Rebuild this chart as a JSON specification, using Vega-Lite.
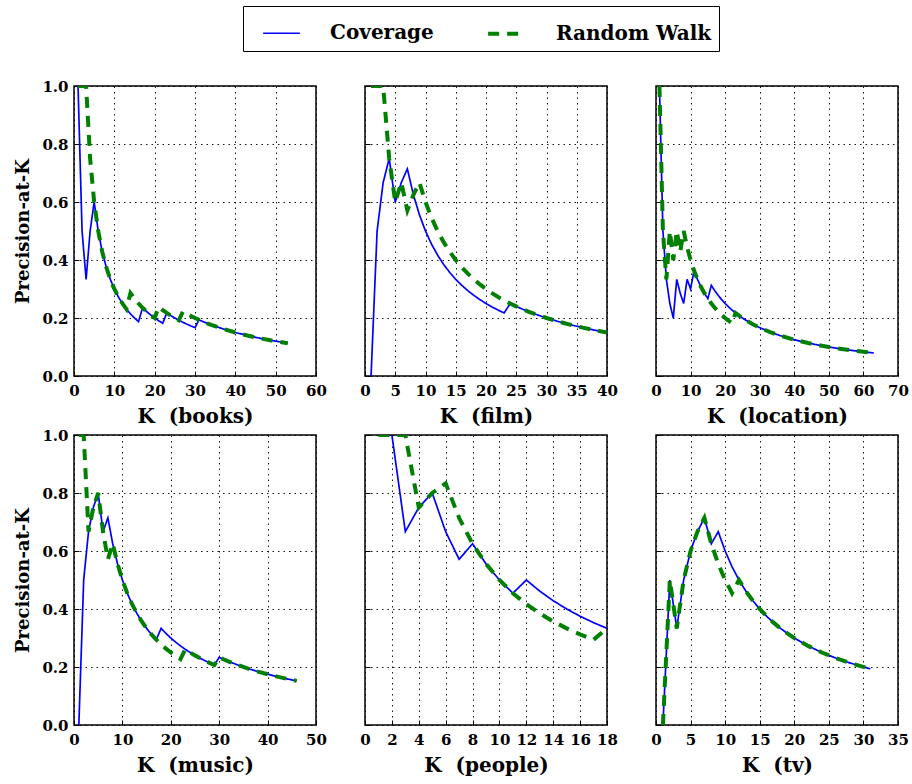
{
  "$schema": "https://vega.github.io/schema/vega-lite/v6.json",
  "padding": {"left": 14, "top": 5, "right": 5, "bottom": 5},
  "background": "white",
  "data": {"values": [
    {"panel":"books","K":1,"Coverage":1,"Random Walk":1},
    {"panel":"books","K":2,"Coverage":0.5,"Random Walk":1},
    {"panel":"books","K":3,"Coverage":0.3333,"Random Walk":1},
    {"panel":"books","K":4,"Coverage":0.5,"Random Walk":0.75},
    {"panel":"books","K":5,"Coverage":0.6,"Random Walk":0.6},
    {"panel":"books","K":6,"Coverage":0.5,"Random Walk":0.5},
    {"panel":"books","K":7,"Coverage":0.4286,"Random Walk":0.4286},
    {"panel":"books","K":8,"Coverage":0.375,"Random Walk":0.375},
    {"panel":"books","K":9,"Coverage":0.3333,"Random Walk":0.3333},
    {"panel":"books","K":10,"Coverage":0.3,"Random Walk":0.3},
    {"panel":"books","K":11,"Coverage":0.2727,"Random Walk":0.2727},
    {"panel":"books","K":12,"Coverage":0.25,"Random Walk":0.25},
    {"panel":"books","K":13,"Coverage":0.2308,"Random Walk":0.2308},
    {"panel":"books","K":14,"Coverage":0.2143,"Random Walk":0.2857},
    {"panel":"books","K":15,"Coverage":0.2,"Random Walk":0.2667},
    {"panel":"books","K":16,"Coverage":0.1875,"Random Walk":0.25},
    {"panel":"books","K":17,"Coverage":0.2353,"Random Walk":0.2353},
    {"panel":"books","K":18,"Coverage":0.2222,"Random Walk":0.2222},
    {"panel":"books","K":19,"Coverage":0.2105,"Random Walk":0.2105},
    {"panel":"books","K":20,"Coverage":0.2,"Random Walk":0.2},
    {"panel":"books","K":21,"Coverage":0.1905,"Random Walk":0.2381},
    {"panel":"books","K":22,"Coverage":0.1818,"Random Walk":0.2273},
    {"panel":"books","K":23,"Coverage":0.2174,"Random Walk":0.2174},
    {"panel":"books","K":24,"Coverage":0.2083,"Random Walk":0.2083},
    {"panel":"books","K":25,"Coverage":0.2,"Random Walk":0.2},
    {"panel":"books","K":26,"Coverage":0.1923,"Random Walk":0.1923},
    {"panel":"books","K":27,"Coverage":0.1852,"Random Walk":0.2222},
    {"panel":"books","K":28,"Coverage":0.1786,"Random Walk":0.2143},
    {"panel":"books","K":29,"Coverage":0.1724,"Random Walk":0.2069},
    {"panel":"books","K":30,"Coverage":0.1667,"Random Walk":0.2},
    {"panel":"books","K":31,"Coverage":0.1935,"Random Walk":0.1935},
    {"panel":"books","K":32,"Coverage":0.1875,"Random Walk":0.1875},
    {"panel":"books","K":33,"Coverage":0.1818,"Random Walk":0.1818},
    {"panel":"books","K":34,"Coverage":0.1765,"Random Walk":0.1765},
    {"panel":"books","K":37,"Coverage":0.1622,"Random Walk":0.1622},
    {"panel":"books","K":40,"Coverage":0.15,"Random Walk":0.15},
    {"panel":"books","K":43,"Coverage":0.1395,"Random Walk":0.1395},
    {"panel":"books","K":46,"Coverage":0.1304,"Random Walk":0.1304},
    {"panel":"books","K":49,"Coverage":0.1224,"Random Walk":0.1224},
    {"panel":"books","K":53,"Coverage":0.1132,"Random Walk":0.1132},

    {"panel":"film","K":1,"Coverage":0,"Random Walk":1},
    {"panel":"film","K":2,"Coverage":0.5,"Random Walk":1},
    {"panel":"film","K":3,"Coverage":0.6667,"Random Walk":1},
    {"panel":"film","K":4,"Coverage":0.75,"Random Walk":0.75},
    {"panel":"film","K":5,"Coverage":0.6,"Random Walk":0.6},
    {"panel":"film","K":6,"Coverage":0.6667,"Random Walk":0.6667},
    {"panel":"film","K":7,"Coverage":0.7143,"Random Walk":0.5714},
    {"panel":"film","K":8,"Coverage":0.625,"Random Walk":0.625},
    {"panel":"film","K":9,"Coverage":0.5556,"Random Walk":0.6667},
    {"panel":"film","K":10,"Coverage":0.5,"Random Walk":0.6},
    {"panel":"film","K":11,"Coverage":0.4545,"Random Walk":0.5455},
    {"panel":"film","K":12,"Coverage":0.4167,"Random Walk":0.5},
    {"panel":"film","K":13,"Coverage":0.3846,"Random Walk":0.4615},
    {"panel":"film","K":14,"Coverage":0.3571,"Random Walk":0.4286},
    {"panel":"film","K":15,"Coverage":0.3333,"Random Walk":0.4},
    {"panel":"film","K":16,"Coverage":0.3125,"Random Walk":0.375},
    {"panel":"film","K":17,"Coverage":0.2941,"Random Walk":0.3529},
    {"panel":"film","K":18,"Coverage":0.2778,"Random Walk":0.3333},
    {"panel":"film","K":19,"Coverage":0.2632,"Random Walk":0.3158},
    {"panel":"film","K":20,"Coverage":0.25,"Random Walk":0.3},
    {"panel":"film","K":21,"Coverage":0.2381,"Random Walk":0.2857},
    {"panel":"film","K":22,"Coverage":0.2273,"Random Walk":0.2727},
    {"panel":"film","K":23,"Coverage":0.2174,"Random Walk":0.2609},
    {"panel":"film","K":24,"Coverage":0.25,"Random Walk":0.25},
    {"panel":"film","K":25,"Coverage":0.24,"Random Walk":0.24},
    {"panel":"film","K":26,"Coverage":0.2308,"Random Walk":0.2308},
    {"panel":"film","K":27,"Coverage":0.2222,"Random Walk":0.2222},
    {"panel":"film","K":28,"Coverage":0.2143,"Random Walk":0.2143},
    {"panel":"film","K":30,"Coverage":0.2,"Random Walk":0.2},
    {"panel":"film","K":32,"Coverage":0.1875,"Random Walk":0.1875},
    {"panel":"film","K":34,"Coverage":0.1765,"Random Walk":0.1765},
    {"panel":"film","K":36,"Coverage":0.1667,"Random Walk":0.1667},
    {"panel":"film","K":38,"Coverage":0.1579,"Random Walk":0.1579},
    {"panel":"film","K":40,"Coverage":0.15,"Random Walk":0.15},

    {"panel":"location","K":1,"Coverage":1,"Random Walk":1},
    {"panel":"location","K":2,"Coverage":0.5,"Random Walk":0.5},
    {"panel":"location","K":3,"Coverage":0.3333,"Random Walk":0.3333},
    {"panel":"location","K":4,"Coverage":0.25,"Random Walk":0.5},
    {"panel":"location","K":5,"Coverage":0.2,"Random Walk":0.4},
    {"panel":"location","K":6,"Coverage":0.3333,"Random Walk":0.5},
    {"panel":"location","K":7,"Coverage":0.2857,"Random Walk":0.4286},
    {"panel":"location","K":8,"Coverage":0.25,"Random Walk":0.5},
    {"panel":"location","K":9,"Coverage":0.3333,"Random Walk":0.4444},
    {"panel":"location","K":10,"Coverage":0.3,"Random Walk":0.4},
    {"panel":"location","K":11,"Coverage":0.3636,"Random Walk":0.3636},
    {"panel":"location","K":12,"Coverage":0.3333,"Random Walk":0.3333},
    {"panel":"location","K":13,"Coverage":0.3077,"Random Walk":0.3077},
    {"panel":"location","K":14,"Coverage":0.2857,"Random Walk":0.2857},
    {"panel":"location","K":15,"Coverage":0.2667,"Random Walk":0.2667},
    {"panel":"location","K":16,"Coverage":0.3125,"Random Walk":0.25},
    {"panel":"location","K":17,"Coverage":0.2941,"Random Walk":0.2353},
    {"panel":"location","K":18,"Coverage":0.2778,"Random Walk":0.2222},
    {"panel":"location","K":19,"Coverage":0.2632,"Random Walk":0.2105},
    {"panel":"location","K":20,"Coverage":0.25,"Random Walk":0.2},
    {"panel":"location","K":21,"Coverage":0.2381,"Random Walk":0.1905},
    {"panel":"location","K":22,"Coverage":0.2273,"Random Walk":0.1818},
    {"panel":"location","K":23,"Coverage":0.2174,"Random Walk":0.2174},
    {"panel":"location","K":24,"Coverage":0.2083,"Random Walk":0.2083},
    {"panel":"location","K":25,"Coverage":0.2,"Random Walk":0.2},
    {"panel":"location","K":26,"Coverage":0.1923,"Random Walk":0.1923},
    {"panel":"location","K":28,"Coverage":0.1786,"Random Walk":0.1786},
    {"panel":"location","K":30,"Coverage":0.1667,"Random Walk":0.1667},
    {"panel":"location","K":33,"Coverage":0.1515,"Random Walk":0.1515},
    {"panel":"location","K":36,"Coverage":0.1389,"Random Walk":0.1389},
    {"panel":"location","K":40,"Coverage":0.125,"Random Walk":0.125},
    {"panel":"location","K":44,"Coverage":0.1136,"Random Walk":0.1136},
    {"panel":"location","K":48,"Coverage":0.1042,"Random Walk":0.1042},
    {"panel":"location","K":52,"Coverage":0.0962,"Random Walk":0.0962},
    {"panel":"location","K":56,"Coverage":0.0893,"Random Walk":0.0893},
    {"panel":"location","K":60,"Coverage":0.0833,"Random Walk":0.0833},
    {"panel":"location","K":63,"Coverage":0.0794,"Random Walk":0.0794},

    {"panel":"music","K":1,"Coverage":0,"Random Walk":1},
    {"panel":"music","K":2,"Coverage":0.5,"Random Walk":1},
    {"panel":"music","K":3,"Coverage":0.6667,"Random Walk":0.6667},
    {"panel":"music","K":4,"Coverage":0.75,"Random Walk":0.75},
    {"panel":"music","K":5,"Coverage":0.8,"Random Walk":0.8},
    {"panel":"music","K":6,"Coverage":0.6667,"Random Walk":0.6667},
    {"panel":"music","K":7,"Coverage":0.7143,"Random Walk":0.5714},
    {"panel":"music","K":8,"Coverage":0.625,"Random Walk":0.625},
    {"panel":"music","K":9,"Coverage":0.5556,"Random Walk":0.5556},
    {"panel":"music","K":10,"Coverage":0.5,"Random Walk":0.5},
    {"panel":"music","K":11,"Coverage":0.4545,"Random Walk":0.4545},
    {"panel":"music","K":12,"Coverage":0.4167,"Random Walk":0.4167},
    {"panel":"music","K":13,"Coverage":0.3846,"Random Walk":0.3846},
    {"panel":"music","K":14,"Coverage":0.3571,"Random Walk":0.3571},
    {"panel":"music","K":15,"Coverage":0.3333,"Random Walk":0.3333},
    {"panel":"music","K":16,"Coverage":0.3125,"Random Walk":0.3125},
    {"panel":"music","K":17,"Coverage":0.2941,"Random Walk":0.2941},
    {"panel":"music","K":18,"Coverage":0.3333,"Random Walk":0.2778},
    {"panel":"music","K":19,"Coverage":0.3158,"Random Walk":0.2632},
    {"panel":"music","K":20,"Coverage":0.3,"Random Walk":0.25},
    {"panel":"music","K":21,"Coverage":0.2857,"Random Walk":0.2381},
    {"panel":"music","K":22,"Coverage":0.2727,"Random Walk":0.2273},
    {"panel":"music","K":23,"Coverage":0.2609,"Random Walk":0.2609},
    {"panel":"music","K":24,"Coverage":0.25,"Random Walk":0.25},
    {"panel":"music","K":25,"Coverage":0.24,"Random Walk":0.24},
    {"panel":"music","K":26,"Coverage":0.2308,"Random Walk":0.2308},
    {"panel":"music","K":27,"Coverage":0.2222,"Random Walk":0.2222},
    {"panel":"music","K":28,"Coverage":0.2143,"Random Walk":0.2143},
    {"panel":"music","K":29,"Coverage":0.2069,"Random Walk":0.2069},
    {"panel":"music","K":30,"Coverage":0.2333,"Random Walk":0.2333},
    {"panel":"music","K":31,"Coverage":0.2258,"Random Walk":0.2258},
    {"panel":"music","K":32,"Coverage":0.2188,"Random Walk":0.2188},
    {"panel":"music","K":34,"Coverage":0.2059,"Random Walk":0.2059},
    {"panel":"music","K":36,"Coverage":0.1944,"Random Walk":0.1944},
    {"panel":"music","K":38,"Coverage":0.1842,"Random Walk":0.1842},
    {"panel":"music","K":40,"Coverage":0.175,"Random Walk":0.175},
    {"panel":"music","K":42,"Coverage":0.1667,"Random Walk":0.1667},
    {"panel":"music","K":44,"Coverage":0.1591,"Random Walk":0.1591},
    {"panel":"music","K":46,"Coverage":0.1522,"Random Walk":0.1522},

    {"panel":"people","K":1,"Coverage":1,"Random Walk":1},
    {"panel":"people","K":2,"Coverage":1,"Random Walk":1},
    {"panel":"people","K":3,"Coverage":0.6667,"Random Walk":1},
    {"panel":"people","K":4,"Coverage":0.75,"Random Walk":0.75},
    {"panel":"people","K":5,"Coverage":0.8,"Random Walk":0.8},
    {"panel":"people","K":6,"Coverage":0.6667,"Random Walk":0.8333},
    {"panel":"people","K":7,"Coverage":0.5714,"Random Walk":0.7143},
    {"panel":"people","K":8,"Coverage":0.625,"Random Walk":0.625},
    {"panel":"people","K":9,"Coverage":0.5556,"Random Walk":0.5556},
    {"panel":"people","K":10,"Coverage":0.5,"Random Walk":0.5},
    {"panel":"people","K":11,"Coverage":0.4545,"Random Walk":0.4545},
    {"panel":"people","K":12,"Coverage":0.5,"Random Walk":0.4167},
    {"panel":"people","K":13,"Coverage":0.4615,"Random Walk":0.3846},
    {"panel":"people","K":14,"Coverage":0.4286,"Random Walk":0.3571},
    {"panel":"people","K":15,"Coverage":0.4,"Random Walk":0.3333},
    {"panel":"people","K":16,"Coverage":0.375,"Random Walk":0.3125},
    {"panel":"people","K":17,"Coverage":0.3529,"Random Walk":0.2941},
    {"panel":"people","K":18,"Coverage":0.3333,"Random Walk":0.3333},

    {"panel":"tv","K":1,"Coverage":0,"Random Walk":0},
    {"panel":"tv","K":2,"Coverage":0.5,"Random Walk":0.5},
    {"panel":"tv","K":3,"Coverage":0.3333,"Random Walk":0.3333},
    {"panel":"tv","K":4,"Coverage":0.5,"Random Walk":0.5},
    {"panel":"tv","K":5,"Coverage":0.6,"Random Walk":0.6},
    {"panel":"tv","K":6,"Coverage":0.6667,"Random Walk":0.6667},
    {"panel":"tv","K":7,"Coverage":0.7143,"Random Walk":0.7143},
    {"panel":"tv","K":8,"Coverage":0.625,"Random Walk":0.625},
    {"panel":"tv","K":9,"Coverage":0.6667,"Random Walk":0.5556},
    {"panel":"tv","K":10,"Coverage":0.6,"Random Walk":0.5},
    {"panel":"tv","K":11,"Coverage":0.5455,"Random Walk":0.4545},
    {"panel":"tv","K":12,"Coverage":0.5,"Random Walk":0.5},
    {"panel":"tv","K":13,"Coverage":0.4615,"Random Walk":0.4615},
    {"panel":"tv","K":14,"Coverage":0.4286,"Random Walk":0.4286},
    {"panel":"tv","K":15,"Coverage":0.4,"Random Walk":0.4},
    {"panel":"tv","K":16,"Coverage":0.375,"Random Walk":0.375},
    {"panel":"tv","K":17,"Coverage":0.3529,"Random Walk":0.3529},
    {"panel":"tv","K":18,"Coverage":0.3333,"Random Walk":0.3333},
    {"panel":"tv","K":19,"Coverage":0.3158,"Random Walk":0.3158},
    {"panel":"tv","K":20,"Coverage":0.3,"Random Walk":0.3},
    {"panel":"tv","K":22,"Coverage":0.2727,"Random Walk":0.2727},
    {"panel":"tv","K":24,"Coverage":0.25,"Random Walk":0.25},
    {"panel":"tv","K":26,"Coverage":0.2308,"Random Walk":0.2308},
    {"panel":"tv","K":28,"Coverage":0.2143,"Random Walk":0.2143},
    {"panel":"tv","K":31,"Coverage":0.1935,"Random Walk":0.1935}
  ]},
  "columns": 3,
  "spacing": {"row": 59, "column": 49},
  "bounds": "flush",
  "concat": [
    {
      "width": 242, "height": 290,
      "transform": [{"filter": "datum.panel === 'books'"}, {"fold": ["Coverage", "Random Walk"], "as": ["series", "P"]}],
      "mark": {"type": "line", "clip": true},
      "encoding": {
        "x": {"field": "K", "type": "quantitative", "scale": {"domain": [0, 60], "nice": false, "zero": false}, "axis": {"values": [0, 10, 20, 30, 40, 50, 60], "title": "K\u00a0\u00a0(books)"}},
        "y": {"field": "P", "type": "quantitative", "scale": {"domain": [0, 1], "nice": false}, "axis": {"values": [0, 0.2, 0.4, 0.6, 0.8, 1.0], "format": ".1f", "title": "Precision-at-K"}},
        "color": {"field": "series", "type": "nominal", "scale": {"domain": ["Coverage", "Random Walk"], "range": ["#0000ff", "#008000"]}, "legend": {"title": null}},
        "strokeDash": {"field": "series", "type": "nominal", "scale": {"domain": ["Coverage", "Random Walk"], "range": [[1, 0], [11, 8]]}, "legend": {"title": null}},
        "strokeWidth": {"field": "series", "type": "nominal", "scale": {"type": "ordinal", "domain": ["Coverage", "Random Walk"], "range": [1.7, 4]}, "legend": {"title": null}}
      }
    },
    {
      "width": 242, "height": 290,
      "transform": [{"filter": "datum.panel === 'film'"}, {"fold": ["Coverage", "Random Walk"], "as": ["series", "P"]}],
      "mark": {"type": "line", "clip": true},
      "encoding": {
        "x": {"field": "K", "type": "quantitative", "scale": {"domain": [0, 40], "nice": false, "zero": false}, "axis": {"values": [0, 5, 10, 15, 20, 25, 30, 35, 40], "title": "K\u00a0\u00a0(film)"}},
        "y": {"field": "P", "type": "quantitative", "scale": {"domain": [0, 1], "nice": false}, "axis": {"values": [0, 0.2, 0.4, 0.6, 0.8, 1.0], "labels": false, "title": null}},
        "color": {"field": "series", "type": "nominal", "scale": {"domain": ["Coverage", "Random Walk"], "range": ["#0000ff", "#008000"]}, "legend": {"title": null}},
        "strokeDash": {"field": "series", "type": "nominal", "scale": {"domain": ["Coverage", "Random Walk"], "range": [[1, 0], [11, 8]]}, "legend": {"title": null}},
        "strokeWidth": {"field": "series", "type": "nominal", "scale": {"type": "ordinal", "domain": ["Coverage", "Random Walk"], "range": [1.7, 4]}, "legend": {"title": null}}
      }
    },
    {
      "width": 242, "height": 290,
      "transform": [{"filter": "datum.panel === 'location'"}, {"fold": ["Coverage", "Random Walk"], "as": ["series", "P"]}],
      "mark": {"type": "line", "clip": true},
      "encoding": {
        "x": {"field": "K", "type": "quantitative", "scale": {"domain": [0, 70], "nice": false, "zero": false}, "axis": {"values": [0, 10, 20, 30, 40, 50, 60, 70], "title": "K\u00a0\u00a0(location)"}},
        "y": {"field": "P", "type": "quantitative", "scale": {"domain": [0, 1], "nice": false}, "axis": {"values": [0, 0.2, 0.4, 0.6, 0.8, 1.0], "labels": false, "title": null}},
        "color": {"field": "series", "type": "nominal", "scale": {"domain": ["Coverage", "Random Walk"], "range": ["#0000ff", "#008000"]}, "legend": {"title": null}},
        "strokeDash": {"field": "series", "type": "nominal", "scale": {"domain": ["Coverage", "Random Walk"], "range": [[1, 0], [11, 8]]}, "legend": {"title": null}},
        "strokeWidth": {"field": "series", "type": "nominal", "scale": {"type": "ordinal", "domain": ["Coverage", "Random Walk"], "range": [1.7, 4]}, "legend": {"title": null}}
      }
    },
    {
      "width": 242, "height": 290,
      "transform": [{"filter": "datum.panel === 'music'"}, {"fold": ["Coverage", "Random Walk"], "as": ["series", "P"]}],
      "mark": {"type": "line", "clip": true},
      "encoding": {
        "x": {"field": "K", "type": "quantitative", "scale": {"domain": [0, 50], "nice": false, "zero": false}, "axis": {"values": [0, 10, 20, 30, 40, 50], "title": "K\u00a0\u00a0(music)"}},
        "y": {"field": "P", "type": "quantitative", "scale": {"domain": [0, 1], "nice": false}, "axis": {"values": [0, 0.2, 0.4, 0.6, 0.8, 1.0], "format": ".1f", "title": "Precision-at-K"}},
        "color": {"field": "series", "type": "nominal", "scale": {"domain": ["Coverage", "Random Walk"], "range": ["#0000ff", "#008000"]}, "legend": {"title": null}},
        "strokeDash": {"field": "series", "type": "nominal", "scale": {"domain": ["Coverage", "Random Walk"], "range": [[1, 0], [11, 8]]}, "legend": {"title": null}},
        "strokeWidth": {"field": "series", "type": "nominal", "scale": {"type": "ordinal", "domain": ["Coverage", "Random Walk"], "range": [1.7, 4]}, "legend": {"title": null}}
      }
    },
    {
      "width": 242, "height": 290,
      "transform": [{"filter": "datum.panel === 'people'"}, {"fold": ["Coverage", "Random Walk"], "as": ["series", "P"]}],
      "mark": {"type": "line", "clip": true},
      "encoding": {
        "x": {"field": "K", "type": "quantitative", "scale": {"domain": [0, 18], "nice": false, "zero": false}, "axis": {"values": [0, 2, 4, 6, 8, 10, 12, 14, 16, 18], "title": "K\u00a0\u00a0(people)"}},
        "y": {"field": "P", "type": "quantitative", "scale": {"domain": [0, 1], "nice": false}, "axis": {"values": [0, 0.2, 0.4, 0.6, 0.8, 1.0], "labels": false, "title": null}},
        "color": {"field": "series", "type": "nominal", "scale": {"domain": ["Coverage", "Random Walk"], "range": ["#0000ff", "#008000"]}, "legend": {"title": null}},
        "strokeDash": {"field": "series", "type": "nominal", "scale": {"domain": ["Coverage", "Random Walk"], "range": [[1, 0], [11, 8]]}, "legend": {"title": null}},
        "strokeWidth": {"field": "series", "type": "nominal", "scale": {"type": "ordinal", "domain": ["Coverage", "Random Walk"], "range": [1.7, 4]}, "legend": {"title": null}}
      }
    },
    {
      "width": 242, "height": 290,
      "transform": [{"filter": "datum.panel === 'tv'"}, {"fold": ["Coverage", "Random Walk"], "as": ["series", "P"]}],
      "mark": {"type": "line", "clip": true},
      "encoding": {
        "x": {"field": "K", "type": "quantitative", "scale": {"domain": [0, 35], "nice": false, "zero": false}, "axis": {"values": [0, 5, 10, 15, 20, 25, 30, 35], "title": "K\u00a0\u00a0(tv)"}},
        "y": {"field": "P", "type": "quantitative", "scale": {"domain": [0, 1], "nice": false}, "axis": {"values": [0, 0.2, 0.4, 0.6, 0.8, 1.0], "labels": false, "title": null}},
        "color": {"field": "series", "type": "nominal", "scale": {"domain": ["Coverage", "Random Walk"], "range": ["#0000ff", "#008000"]}, "legend": {"title": null}},
        "strokeDash": {"field": "series", "type": "nominal", "scale": {"domain": ["Coverage", "Random Walk"], "range": [[1, 0], [11, 8]]}, "legend": {"title": null}},
        "strokeWidth": {"field": "series", "type": "nominal", "scale": {"type": "ordinal", "domain": ["Coverage", "Random Walk"], "range": [1.7, 4]}, "legend": {"title": null}}
      }
    }
  ],
  "config": {
    "font": "DejaVu Serif",
    "view": {"stroke": "black", "strokeWidth": 1.5},
    "axis": {
      "domain": false,
      "grid": true,
      "gridColor": "black",
      "gridDash": [1.5, 4],
      "gridWidth": 0.9,
      "gridOpacity": 1,
      "ticks": true,
      "tickColor": "black",
      "tickSize": -5,
      "tickWidth": 1,
      "labelFont": "DejaVu Serif",
      "labelFontWeight": "bold",
      "labelFontSize": 15,
      "labelColor": "black",
      "titleFont": "DejaVu Serif",
      "titleFontWeight": "bold",
      "titleColor": "black"
    },
    "axisX": {"labelPadding": 12, "titleFontSize": 20, "titlePadding": 8, "labelFlush": false, "labelOverlap": false},
    "axisY": {"labelPadding": 11, "titleFontSize": 18, "titlePadding": 9, "labelFlush": false, "labelOverlap": false},
    "legend": {
      "orient": "none",
      "legendX": 169,
      "legendY": -80,
      "direction": "horizontal",
      "symbolType": "stroke",
      "symbolSize": 1350,
      "symbolOffset": 12,
      "labelFont": "DejaVu Serif",
      "labelFontWeight": "bold",
      "labelFontSize": 20,
      "labelLimit": 400,
      "labelColor": "black",
      "labelOffset": 29,
      "columnPadding": 40,
      "strokeColor": "black",
      "fillColor": "white",
      "padding": 7,
      "cornerRadius": 0
    }
  }
}
